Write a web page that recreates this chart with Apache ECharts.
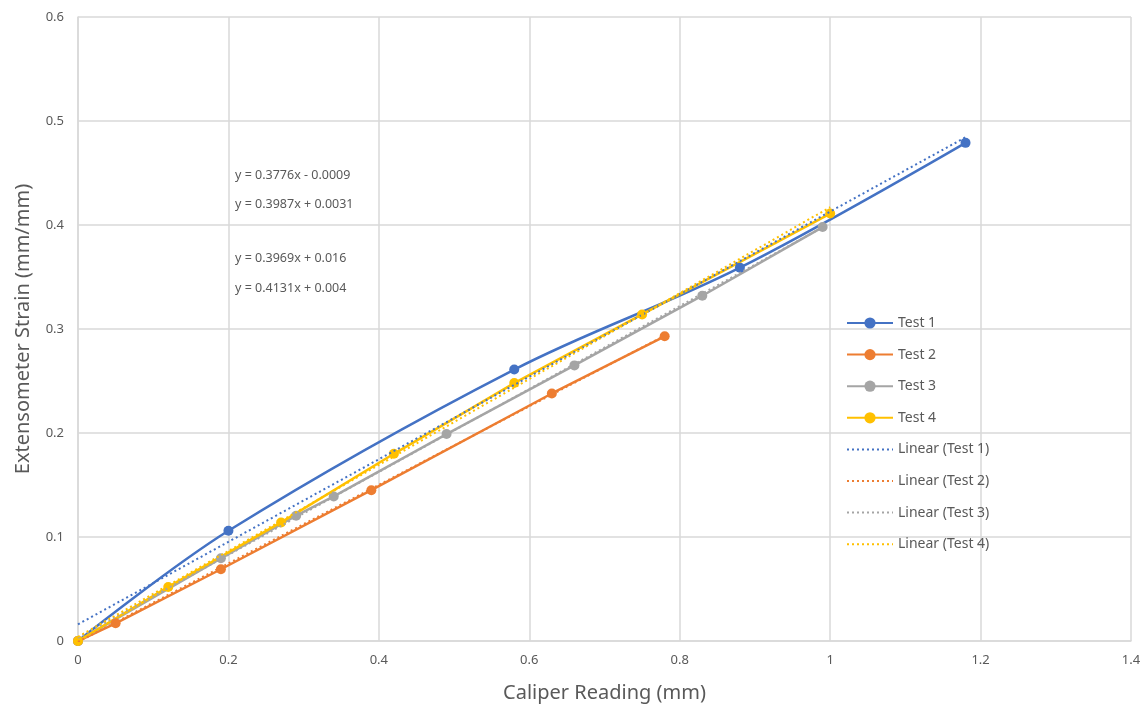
<!DOCTYPE html>
<html>
<head>
<meta charset="utf-8">
<script src="https://cdn.jsdelivr.net/npm/echarts@6/dist/echarts.min.js"></script>
<style>
  html, body { margin: 0; padding: 0; background: #fff; }
  #chart { width: 1148px; height: 713px; }
</style>
</head>
<body>
<div id="chart"></div>
<script>
// measured points, [caliper mm, strain mm/mm]
var test1 = [[0, 0], [0.2, 0.106], [0.58, 0.261], [0.88, 0.359], [1.18, 0.479]]
var test2 = [[0, 0], [0.05, 0.017], [0.19, 0.069], [0.39, 0.145], [0.63, 0.238], [0.78, 0.293]]
var test3 = [[0, 0], [0.19, 0.0795], [0.29, 0.1205], [0.34, 0.139], [0.49, 0.199], [0.66, 0.265], [0.83, 0.332], [0.99, 0.398]]
var test4 = [[0, 0], [0.12, 0.052], [0.27, 0.114], [0.42, 0.180], [0.58, 0.248], [0.75, 0.314], [1.0, 0.411]]

// trendline coefficients as printed on the chart
var slopes = [0.3969, 0.3776, 0.3987, 0.4131]
var intercepts = [0.016, -0.0009, 0.0031, 0.004]
var slopeText = ['0.3969', '0.3776', '0.3987', '0.4131']
var interceptText = ['0.016', '0.0009', '0.0031', '0.004']

var names = ['Test 1', 'Test 2', 'Test 3', 'Test 4']
var colors = ['#4472C4', '#ED7D31', '#A5A5A5', '#FFC000']
var xTicks = [0, 0.2, 0.4, 0.6, 0.8, 1, 1.2, 1.4]
var yTicks = [0, 0.1, 0.2, 0.3, 0.4, 0.5, 0.6]

var tests = [test1, test2, test3, test4]
var labelColor = '#595959'
var fontFam = '"Noto Sans", "Open Sans", sans-serif'

function trend(i) {
  var xs = tests[i].map(function (p) { return p[0] })
  var x0 = Math.min.apply(null, xs), x1 = Math.max.apply(null, xs)
  return [[x0, slopes[i] * x0 + intercepts[i]], [x1, slopes[i] * x1 + intercepts[i]]]
}

function eqText(i) {
  var sign = intercepts[i] < 0 ? ' - ' : ' + '
  return 'y = ' + slopeText[i] + 'x' + sign + interceptText[i]
}

var series = []
tests.forEach(function (d, i) {
  series.push({
    name: names[i],
    type: 'line',
    data: d,
    smooth: i === 0 ? 0.35 : false,
    symbol: 'circle',
    symbolSize: 10,
    itemStyle: { color: colors[i] },
    lineStyle: { color: colors[i], width: 2.5 },
    z: 3
  })
})
tests.forEach(function (d, i) {
  series.push({
    name: 'Linear (' + names[i] + ')',
    type: 'line',
    data: trend(i),
    symbol: 'none',
    itemStyle: { color: colors[i] },
    lineStyle: { color: colors[i], width: 2, type: [2, 3] },
    z: 4
  })
})

// legend: trendline entries show just the dotted line
var legendData = series.map(function (s, i) {
  if (i < 4) return { name: s.name }
  return { name: s.name, itemStyle: { opacity: 0 } }
})

// equation labels, in the order they sit on the chart
var eqOrder = [1, 2, 0, 3]
var eqTops = [169, 198, 252, 282]
var graphics = eqOrder.map(function (idx, k) {
  return {
    type: 'text',
    left: 235,
    top: eqTops[k],
    style: { text: eqText(idx), fill: labelColor, font: '12.5px ' + fontFam }
  }
})

var chart = echarts.init(document.getElementById('chart'))
chart.setOption({
  animation: false,
  backgroundColor: '#fff',
  textStyle: { fontFamily: fontFam },
  grid: { left: 78, right: 17, top: 17, bottom: 72, containLabel: false, outerBoundsMode: 'none' },
  legend: {
    orient: 'vertical',
    left: 841,
    top: 311,
    itemWidth: 46,
    itemHeight: 14,
    itemGap: 17.6,
    textStyle: { color: labelColor, fontSize: 14 },
    data: legendData
  },
  xAxis: {
    type: 'value',
    min: xTicks[0],
    max: xTicks[xTicks.length - 1],
    interval: 0.2,
    name: 'Caliper Reading (mm)',
    nameLocation: 'middle',
    nameGap: 42,
    nameTextStyle: { color: labelColor, fontSize: 20 },
    axisLine: { show: true, lineStyle: { color: '#D9D9D9', width: 1.5 } },
    axisTick: { show: false },
    axisLabel: { color: labelColor, fontSize: 13, margin: 13 },
    splitLine: { show: true, lineStyle: { color: '#D9D9D9', width: 1.5 } }
  },
  yAxis: {
    type: 'value',
    min: yTicks[0],
    max: yTicks[yTicks.length - 1],
    interval: 0.1,
    name: 'Extensometer Strain (mm/mm)',
    nameLocation: 'middle',
    nameGap: 45,
    nameTextStyle: { color: labelColor, fontSize: 20 },
    axisLine: { show: true, lineStyle: { color: '#D9D9D9', width: 1.5 } },
    axisTick: { show: false },
    axisLabel: { color: labelColor, fontSize: 13, margin: 14 },
    splitLine: { show: true, lineStyle: { color: '#D9D9D9', width: 1.5 } }
  },
  graphic: graphics,
  series: series
})
</script>
</body>
</html>
